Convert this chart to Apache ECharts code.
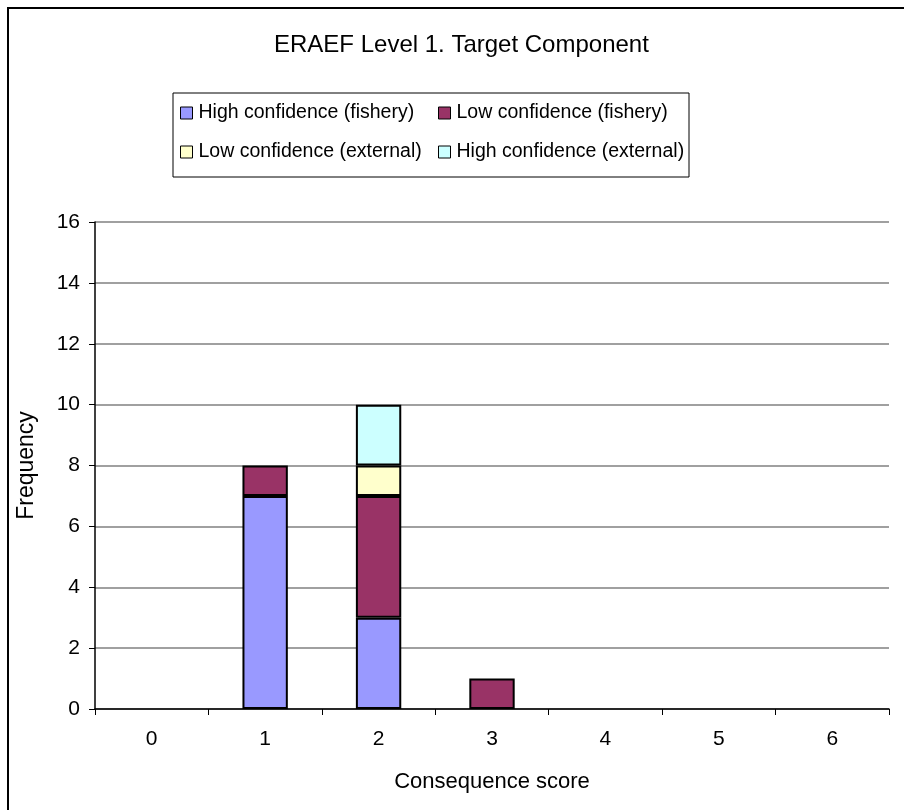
<!DOCTYPE html>
<html>
<head>
<meta charset="utf-8">
<script src="https://cdn.jsdelivr.net/npm/echarts@6/dist/echarts.min.js"></script>
<style>
  html, body { margin: 0; padding: 0; background: #fff; }
  #main { width: 904px; height: 810px; }
</style>
</head>
<body>
<div id="main"></div>
<script>
// x categories (consequence score)
var scores = ['0', '1', '2', '3', '4', '5', '6'];
var highFishery = [0, 7, 3, 0, 0, 0, 0];
var lowFishery = [0, 1, 4, 1, 0, 0, 0];
var lowExternal = [0, 0, 1, 0, 0, 0, 0];
var highExternal = [0, 0, 2, 0, 0, 0, 0];

var font = 'Liberation Sans, Arial, sans-serif';
var chart = echarts.init(document.getElementById('main'));

function bar(name, data, color) {
    return {
        name: name,
        type: 'bar',
        stack: 'total',
        barWidth: '40%',
        // zero counts draw nothing
        data: data.map(function (v) { return v === 0 ? null : v; }),
        itemStyle: { color: color, borderColor: '#000', borderWidth: 2 },
        emphasis: { disabled: true }
    };
}

function legendCol(left, names) {
    return {
        orient: 'vertical',
        left: left,
        top: 103,
        padding: 0,
        itemWidth: 12,
        itemHeight: 12,
        itemGap: 19,
        icon: 'rect',
        textStyle: { fontFamily: font, fontSize: 19.5, lineHeight: 20, color: '#000', padding: [0, 0, 0, 1] },
        data: names.map(function (n) {
            return { name: n, itemStyle: { borderColor: '#000', borderWidth: 1 } };
        })
    };
}

var option = {
    animation: false,
    backgroundColor: '#fff',
    textStyle: { fontFamily: font },
    title: {
        text: 'ERAEF Level 1. Target Component',
        left: 274,
        top: 33,
        padding: 0,
        textStyle: { fontFamily: font, fontSize: 24, fontWeight: 'normal', color: '#000' }
    },
    graphic: [
        // outer chart border (left and top visible)
        { type: 'rect', shape: { x: 8, y: 8, width: 920, height: 830 },
          style: { fill: 'none', stroke: '#000', lineWidth: 2 } },
        // legend box
        { type: 'rect', shape: { x: 173, y: 93, width: 516, height: 84 },
          style: { fill: 'none', stroke: '#000', lineWidth: 1 } }
    ],
    legend: [
        legendCol(180, ['High confidence (fishery)', 'Low confidence (external)']),
        legendCol(438, ['Low confidence (fishery)', 'High confidence (external)'])
    ],
    grid: { left: 95, right: 15, top: 222, bottom: 101, containLabel: false },
    xAxis: {
        type: 'category',
        data: scores,
        name: 'Consequence score',
        nameLocation: 'middle',
        nameGap: 62,
        nameTextStyle: { fontFamily: font, fontSize: 22, color: '#000' },
        axisLine: { lineStyle: { color: '#000', width: 1.5 } },
        axisTick: { show: true, alignWithLabel: false, length: 6, lineStyle: { color: '#000' } },
        axisLabel: { fontFamily: font, fontSize: 21, color: '#000', margin: 20 }
    },
    yAxis: {
        type: 'value',
        min: 0,
        max: 16,
        interval: 2,
        name: 'Frequency',
        nameLocation: 'middle',
        nameGap: 57,
        nameTextStyle: { fontFamily: font, fontSize: 23, color: '#000' },
        axisLine: { show: true, lineStyle: { color: '#000', width: 1.5 } },
        axisTick: { show: true, length: 6, lineStyle: { color: '#000' } },
        axisLabel: { fontFamily: font, fontSize: 21, color: '#000', margin: 15 },
        splitLine: { show: true, lineStyle: { color: '#808080', width: 1.5 } }
    },
    series: [
        bar('High confidence (fishery)', highFishery, '#9999FF'),
        bar('Low confidence (fishery)', lowFishery, '#993366'),
        bar('Low confidence (external)', lowExternal, '#FFFFCC'),
        bar('High confidence (external)', highExternal, '#CCFFFF')
    ]
};

chart.setOption(option);
</script>
</body>
</html>
